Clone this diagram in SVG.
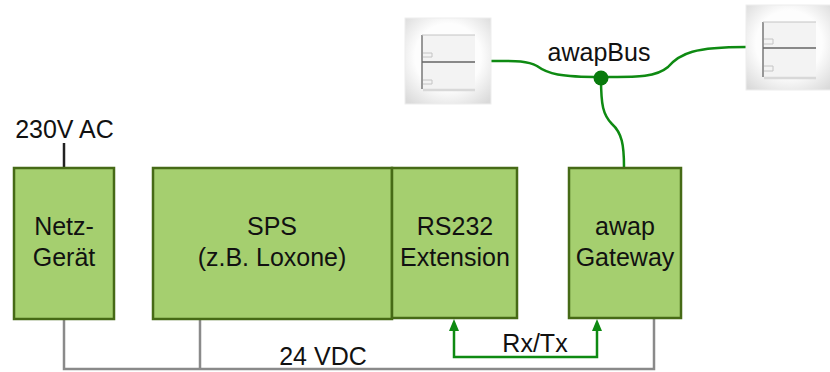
<svg xmlns="http://www.w3.org/2000/svg" width="830" height="372" viewBox="0 0 830 372">
<style>
text{font-family:"Liberation Sans",Arial,sans-serif;font-size:25px;fill:#111;text-anchor:middle}
.box{fill:#a5cf6f;stroke:#466a16;stroke-width:2.5}
.bus{fill:none;stroke:#0e8a12;stroke-width:2.5}
.pow{fill:none;stroke:#8a8a8a;stroke-width:2.5}
.plate{fill:url(#pl);stroke:#eeeeee;stroke-width:1}
.rock{fill:#f3f3f3}
.e1{fill:none;stroke:#666666;stroke-width:1.3}
.e2{fill:none;stroke:#c4c4c4;stroke-width:1}
.e3{fill:none;stroke:#d8d8d8;stroke-width:2.5}
</style>
<defs>
<radialGradient id="pl" cx=".5" cy=".45" r=".7"><stop offset=".55" stop-color="#fdfdfd"/><stop offset="1" stop-color="#dadada"/></radialGradient>
</defs>
<g id="connectors">
<path class="pow" d="M64 319V369H654V319M200 319V369"/>
<path d="M64 143V168" fill="none" stroke="#222" stroke-width="2.5"/>
<path class="bus" d="M454 327V357H597V327"/>
<path d="M449 331L454 319L459 331Z" fill="#0e8a12"/>
<path d="M592 331L597 319L602 331Z" fill="#0e8a12"/>
<path class="bus" d="M491 61C512 61 526 60 537 66C548 74 560 77 601 77C635 77 655 78 668 67C680 53 695 47 746 47"/>
<path class="bus" d="M601 78C601 105 603 115 612 124C622 133 624 145 624 167"/>
<circle cx="601" cy="78" r="7.5" fill="#087a0c"/>
</g>
<g id="netz"><rect class="box" x="14" y="168" width="100" height="151"/><text x="64" y="235">Netz-</text><text x="64" y="266">Gerät</text></g>
<g id="sps"><rect class="box" x="153" y="168" width="239" height="151"/><text x="272" y="235">SPS</text><text x="272" y="266">(z.B. Loxone)</text></g>
<g id="rs232"><rect class="box" x="392" y="168" width="125" height="150"/><text x="455" y="235">RS232</text><text x="455" y="266">Extension</text></g>
<g id="gateway"><rect class="box" x="569" y="168" width="112" height="150"/><text x="625" y="235">awap</text><text x="625" y="266">Gateway</text></g>
<g id="switch-left">
<rect class="plate" x="405" y="18" width="86" height="86"/>
<rect class="rock" x="422" y="35" width="53" height="54"/>
<path class="e3" d="M423 90H475"/>
<path class="e1" d="M422 35V89M422 62H475"/><path class="e2" d="M422 35H475"/>
<path class="e2" d="M423 53H432V57H423M423 80H432V84H423"/>
</g>
<g id="switch-right">
<rect class="plate" x="746" y="5" width="86" height="85"/>
<rect class="rock" x="763" y="22" width="53" height="55"/>
<path class="e3" d="M764 78H816"/>
<path class="e1" d="M763 22V77M763 48H816"/><path class="e2" d="M763 22H816"/>
<path class="e2" d="M764 39H773V44H764M764 66H773V71H764"/>
</g>
<g id="labels">
<text x="64.500" y="138">230V AC</text>
<text x="599" y="61">awapBus</text>
<text x="323" y="365">24 VDC</text>
<text x="535" y="352">Rx/Tx</text>
</g>
</svg>
